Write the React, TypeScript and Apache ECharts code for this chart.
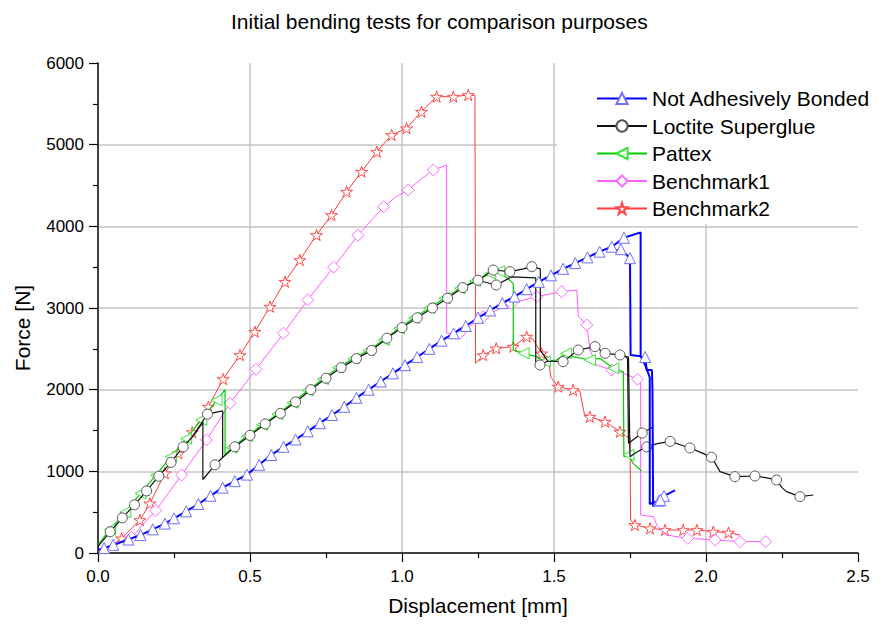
import React, { useEffect, useRef } from 'react';
import * as echarts from 'echarts';

const chartTitle = 'Initial bending tests for comparison purposes';
const xAxisName = 'Displacement [mm]';
const yAxisName = 'Force [N]';
const seriesNames = ['Not Adhesively Bonded', 'Loctite Superglue', 'Pattex', 'Benchmark1', 'Benchmark2'];

// [displacement mm, force N, marker 1/0]
type P = [number, number, number];

const notBonded: P[] = [
  [0, 40, 0], [0.02, 60, 1], [0.05, 100, 1], [0.1, 165, 1], [0.14, 220, 1], [0.18, 290, 1], [0.22, 360, 1],
  [0.25, 425, 1], [0.29, 510, 1], [0.33, 600, 1], [0.37, 700, 1], [0.41, 800, 1], [0.45, 880, 1], [0.49, 960, 1],
  [0.53, 1080, 1], [0.57, 1200, 1], [0.61, 1300, 1], [0.65, 1390, 1], [0.69, 1490, 1], [0.73, 1590, 1],
  [0.77, 1690, 1], [0.81, 1790, 1], [0.85, 1900, 1], [0.89, 2000, 1], [0.93, 2100, 1], [0.97, 2200, 1],
  [1.01, 2300, 1], [1.05, 2400, 1], [1.09, 2500, 1], [1.13, 2600, 1], [1.17, 2690, 1], [1.21, 2780, 1],
  [1.25, 2880, 1], [1.29, 2970, 1], [1.33, 3060, 1], [1.37, 3140, 1], [1.41, 3230, 1], [1.45, 3320, 1],
  [1.49, 3400, 1], [1.53, 3480, 1], [1.57, 3550, 1], [1.61, 3620, 1], [1.65, 3690, 1], [1.69, 3750, 1],
  [1.73, 3860, 1], [1.785, 3926, 0], [1.785, 2404, 0], [1.8, 2400, 1], [1.805, 2240, 0], [1.822, 2240, 0],
  [1.824, 1996, 0], [1.826, 570, 0], [1.845, 640, 1], [1.862, 700, 1], [1.898, 766, 0],
];
const notBondedBranch: P[] = [
  [1.7, 3700, 0], [1.72, 3720, 1], [1.75, 3610, 1], [1.752, 2425, 0], [1.785, 2410, 0], [1.8, 2300, 0],
  [1.815, 2150, 0], [1.815, 600, 0], [1.85, 650, 1], [1.876, 650, 0],
];

const loctite: P[] = [
  [0, 80, 0], [0.04, 260, 1], [0.08, 430, 1], [0.12, 590, 1], [0.16, 760, 1], [0.2, 940, 1], [0.24, 1110, 1],
  [0.28, 1300, 1], [0.31, 1420, 0], [0.345, 1600, 0], [0.345, 900, 0], [0.385, 1080, 1], [0.41, 1170, 0],
  [0.45, 1300, 1], [0.5, 1440, 1], [0.55, 1580, 1], [0.6, 1710, 1], [0.65, 1850, 1], [0.7, 2000, 1],
  [0.75, 2140, 1], [0.8, 2270, 1], [0.85, 2380, 1], [0.9, 2480, 1], [0.95, 2630, 1], [1.0, 2760, 1],
  [1.05, 2880, 1], [1.1, 3000, 1], [1.15, 3120, 1], [1.2, 3250, 1], [1.25, 3340, 1], [1.3, 3465, 1],
  [1.355, 3445, 1], [1.4, 3480, 0], [1.427, 3506, 1], [1.455, 3480, 0], [1.455, 2480, 0], [1.48, 2350, 0],
  [1.53, 2343, 1], [1.58, 2486, 1], [1.635, 2527, 1], [1.668, 2445, 1], [1.717, 2425, 1], [1.745, 2400, 0],
  [1.75, 1180, 0], [1.77, 1230, 0], [1.805, 1300, 1], [1.84, 1340, 0], [1.882, 1367, 1], [1.92, 1320, 0],
  [1.947, 1286, 1], [1.99, 1220, 0], [2.018, 1172, 1], [2.03, 1100, 0], [2.046, 996, 0], [2.095, 935, 1],
  [2.161, 943, 1], [2.2, 920, 0], [2.232, 894, 1], [2.25, 800, 0], [2.265, 751, 0], [2.309, 690, 1],
  [2.353, 710, 0],
];
const loctiteBranch1: P[] = [
  [0.31, 1420, 0], [0.36, 1700, 1], [0.41, 1740, 0], [0.41, 1170, 0],
];
const loctiteBranch2: P[] = [
  [1.25, 3340, 0], [1.31, 3282, 1], [1.36, 3380, 0], [1.44, 3370, 0], [1.44, 2330, 0], [1.454, 2302, 1],
  [1.48, 2350, 0],
];
const loctiteBranch3: P[] = [
  [1.73, 2420, 0], [1.742, 2380, 0], [1.745, 1343, 0], [1.79, 1469, 1], [1.827, 1547, 0],
];

const pattex: P[] = [
  [0, 100, 0], [0.04, 290, 1], [0.09, 500, 1], [0.14, 730, 1], [0.19, 950, 1], [0.24, 1180, 1], [0.29, 1400, 1],
  [0.34, 1630, 1], [0.39, 1870, 1], [0.418, 2000, 0], [0.418, 1200, 0], [0.44, 1290, 1], [0.49, 1430, 1],
  [0.54, 1570, 1], [0.59, 1700, 1], [0.64, 1840, 1], [0.69, 1990, 1], [0.74, 2130, 1], [0.79, 2270, 1],
  [0.84, 2380, 1], [0.89, 2480, 1], [0.94, 2610, 1], [0.99, 2750, 1], [1.04, 2880, 1], [1.09, 3000, 1],
  [1.14, 3120, 1], [1.19, 3240, 1], [1.24, 3330, 1], [1.29, 3420, 1], [1.32, 3450, 1], [1.366, 3302, 0],
  [1.366, 2486, 0], [1.4, 2445, 1], [1.443, 2404, 0], [1.47, 2343, 1], [1.508, 2363, 0], [1.54, 2445, 1],
  [1.563, 2404, 0], [1.618, 2363, 1], [1.651, 2384, 0], [1.695, 2261, 1], [1.728, 2220, 0], [1.73, 1180, 0],
  [1.745, 1200, 1], [1.76, 1098, 0], [1.772, 1057, 0], [1.788, 1008, 0],
];

const benchmark1: P[] = [
  [0, 30, 0], [0.05, 80, 0], [0.11, 190, 1], [0.19, 520, 1], [0.275, 955, 1], [0.357, 1384, 1],
  [0.434, 1833, 1], [0.52, 2250, 1], [0.61, 2690, 1], [0.69, 3100, 1], [0.775, 3500, 1], [0.855, 3890, 1],
  [0.94, 4240, 1], [0.98, 4360, 0], [1.02, 4445, 1], [1.06, 4570, 0], [1.103, 4690, 1], [1.147, 4751, 0],
  [1.147, 2690, 0], [1.19, 2690, 1], [1.267, 2894, 1], [1.36, 3057, 1], [1.443, 3139, 1], [1.525, 3200, 1],
  [1.575, 3221, 0], [1.58, 2900, 0], [1.608, 2792, 1], [1.618, 2486, 0], [1.64, 2302, 0], [1.69, 2241, 1],
  [1.73, 2200, 0], [1.775, 2127, 1], [1.785, 2100, 0], [1.785, 465, 0], [1.827, 445, 0], [1.84, 330, 0],
  [1.87, 220, 0], [1.94, 180, 1], [2.03, 160, 1], [2.112, 139, 1], [2.196, 139, 1],
];

const benchmark2: P[] = [
  [0, 20, 0], [0.04, 80, 0], [0.078, 180, 1], [0.138, 404, 1], [0.171, 608, 1], [0.22, 976, 1],
  [0.264, 1220, 1], [0.31, 1480, 1], [0.363, 1792, 1], [0.412, 2130, 1], [0.467, 2424, 1], [0.516, 2710, 1],
  [0.566, 3016, 1], [0.615, 3322, 1], [0.664, 3588, 1], [0.719, 3894, 1], [0.768, 4139, 1], [0.818, 4425, 1],
  [0.867, 4670, 1], [0.917, 4914, 1], [0.966, 5118, 1], [1.015, 5200, 1], [1.064, 5404, 1], [1.114, 5588, 1],
  [1.169, 5588, 1], [1.218, 5608, 1], [1.24, 5600, 0], [1.242, 2322, 0], [1.267, 2424, 1], [1.31, 2506, 1],
  [1.366, 2527, 1], [1.41, 2649, 1], [1.43, 2620, 0], [1.459, 2445, 1], [1.48, 2400, 0], [1.49, 2150, 0],
  [1.514, 2037, 1], [1.563, 1996, 1], [1.585, 1980, 0], [1.6, 1700, 0], [1.618, 1669, 1], [1.668, 1608, 1],
  [1.717, 1486, 1], [1.739, 1425, 0], [1.75, 1420, 0], [1.752, 404, 0], [1.766, 343, 1], [1.816, 302, 1],
  [1.865, 282, 1], [1.925, 282, 1], [1.97, 282, 1], [2.024, 261, 1], [2.074, 250, 1], [2.112, 220, 0],
];

const FONT = 'Liberation Sans, Arial, Helvetica, sans-serif';
const STAR = 'path://M50,0 L61,35 L98,35 L68,57 L79,91 L50,70 L21,91 L32,57 L2,35 L39,35 Z';

const toData = (arr: P[]) =>
  arr.map(([x, y, m]) => (m ? [x, y] : { value: [x, y], symbol: 'none' }));

function mk(name: string, arr: P[], line: string, mark: string, symbol: string, size: number, rot: number, width: number, z: number) {
  return {
    name,
    type: 'line',
    data: toData(arr),
    symbol,
    symbolSize: size,
    symbolRotate: rot,
    symbolKeepAspect: true,
    showSymbol: true,
    showAllSymbol: true,
    z,
    lineStyle: { color: line, width },
    itemStyle: { color: '#ffffff', borderColor: mark, borderWidth: 1 },
    emphasis: { disabled: true },
  };
}

export default function App() {
  const ref = useRef<HTMLDivElement>(null);
  useEffect(() => {
    if (!ref.current) return;
    const chart = echarts.init(ref.current, undefined, { renderer: 'svg' });
    const blue = ['#0000ff', '#6f6fff'];
    const black = ['#111111', '#555555'];
    const green = ['#00cc00', '#33e633'];
    const pink = ['#ff5cff', '#ff6cff'];
    const red = ['#ff3b3b', '#ff4a4a'];
    const option: any = {
      animation: false,
      backgroundColor: '#ffffff',
      title: {
        text: chartTitle,
        left: 226,
        top: 6,
        textStyle: { fontFamily: FONT, fontSize: 21, fontWeight: 'normal', color: '#000' },
      },
      grid: { left: 98, right: 30, top: 63, bottom: 72, containLabel: false },
      legend: {
        orient: 'vertical',
        left: 591,
        top: 83,
        itemWidth: 50,
        itemHeight: 14,
        itemGap: 6.5,
        itemTextGap: 7,
        z: 10,
        data: seriesNames,
        textStyle: { fontFamily: FONT, fontSize: 21, color: '#000' },
      },
      xAxis: {
        type: 'value',
        min: 0,
        max: 2.5,
        interval: 0.5,
        name: xAxisName,
        nameLocation: 'middle',
        nameGap: 42,
        nameTextStyle: { fontFamily: FONT, fontSize: 21, color: '#000' },
        axisLine: { onZero: false, lineStyle: { color: '#000', width: 1.5 } },
        axisTick: { length: 9, lineStyle: { color: '#000', width: 1.2 } },
        minorTick: { show: true, splitNumber: 2, length: 5, lineStyle: { color: '#000', width: 1.2 } },
        axisLabel: { margin: 15, fontFamily: FONT, fontSize: 17, color: '#000', formatter: (v: number) => v.toFixed(1) },
        splitLine: { show: true, showMinLine: false, showMaxLine: false, lineStyle: { color: '#c4c4c4', width: 1.5 } },
      },
      yAxis: {
        type: 'value',
        min: 0,
        max: 6000,
        interval: 1000,
        axisLine: { onZero: false, lineStyle: { color: '#000', width: 1.5 } },
        axisTick: { length: 9, lineStyle: { color: '#000', width: 1.2 } },
        minorTick: { show: true, splitNumber: 2, length: 5, lineStyle: { color: '#000', width: 1.2 } },
        axisLabel: { margin: 14, fontFamily: FONT, fontSize: 17, color: '#000', formatter: (v: number) => String(v) },
        splitLine: { show: true, showMinLine: false, showMaxLine: false, lineStyle: { color: '#c4c4c4', width: 1.5 } },
      },
      graphic: [
        { type: 'rect', z: 3, shape: { x: 557, y: 60, width: 331, height: 164 }, style: { fill: '#ffffff' } },
        {
          type: 'text', z: 5, x: 22, y: 328, rotation: Math.PI / 2,
          style: { text: yAxisName, fontFamily: FONT, fontSize: 21, fill: '#000', textAlign: 'center', textVerticalAlign: 'middle' },
        },
      ],
      series: [
        mk(seriesNames[0], notBonded, blue[0], blue[1], 'triangle', 11, 0, 2, 6),
        mk(seriesNames[0], notBondedBranch, blue[0], blue[1], 'triangle', 11, 0, 2, 6),
        mk(seriesNames[1], loctite, black[0], black[1], 'circle', 10, 0, 1.2, 5),
        mk(seriesNames[1], loctiteBranch1, black[0], black[1], 'circle', 10, 0, 1.2, 5),
        mk(seriesNames[1], loctiteBranch2, black[0], black[1], 'circle', 10, 0, 1.2, 5),
        mk(seriesNames[1], loctiteBranch3, black[0], black[1], 'circle', 10, 0, 1.2, 5),
        mk(seriesNames[2], pattex, green[0], green[1], 'triangle', 11, 90, 1.2, 4),
        mk(seriesNames[3], benchmark1, pink[0], pink[1], 'diamond', 12, 0, 1, 3),
        mk(seriesNames[4], benchmark2, red[0], red[1], STAR, 12, 0, 1, 2),
      ],
    };
    chart.setOption(option);
    return () => chart.dispose();
  }, []);
  return <div ref={ref} style={{ width: 888, height: 625, position: 'absolute', left: 0, top: 0 }} />;
}
